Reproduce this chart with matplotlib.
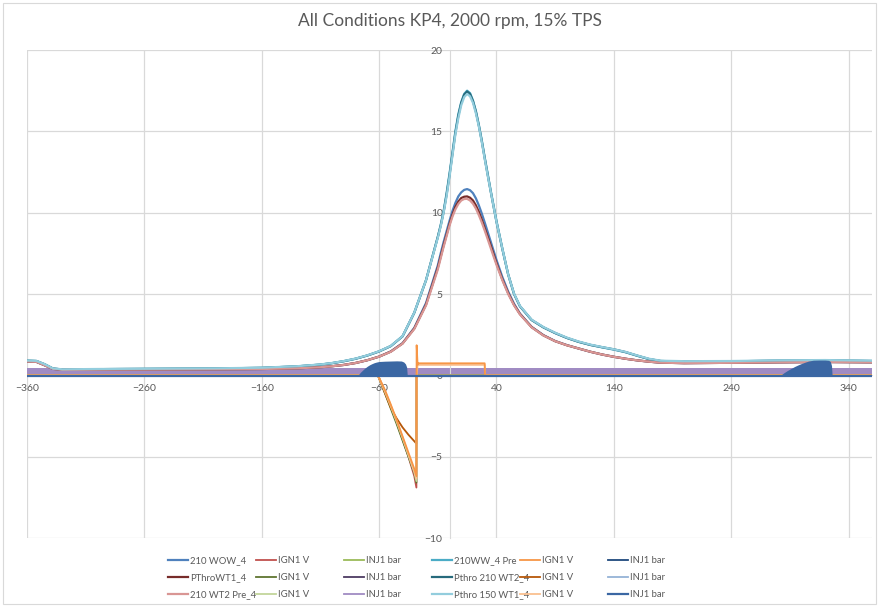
import matplotlib.pyplot as plt
from matplotlib.patches import Rectangle

plt.rcParams['font.family'] = ['Lato', 'DejaVu Sans']

# crank angle (deg) for the cylinder pressure traces
crank = [-360, -352, -345, -338, -330, -300, -250, -200, -160, -130, -110, -100,
         -90, -80, -70, -60, -50, -40, -30, -20,
         -10, -7.5, -5, -2.5, 0, 2.5, 5, 7.5, 10, 12.5, 15, 17.5, 20, 22.5, 25, 27.5,
         30, 32.5, 35, 37.5, 40,
         45, 50, 55, 60, 70, 80, 90, 100, 110, 120, 130, 140, 150,
         160, 170, 180, 200, 240, 280, 320, 360]

# pressure (bar)
p_210_wow = [0.85, 0.83, 0.62, 0.40, 0.34, 0.35, 0.36, 0.37, 0.39, 0.43, 0.50, 0.56,
             0.64, 0.76, 0.93, 1.15, 1.47, 1.98, 2.92, 4.45,
             6.75, 7.5, 8.2, 8.85, 9.5, 10.1, 10.6, 11.0, 11.25, 11.4, 11.45, 11.38, 11.2, 10.88, 10.45, 9.95,
             9.4, 8.83, 8.25, 7.67, 7.1,
             6.05, 5.15, 4.4, 3.8, 2.98, 2.47, 2.11, 1.86, 1.65, 1.45, 1.28, 1.14, 1.02,
             0.92, 0.84, 0.78, 0.75, 0.77, 0.80, 0.82, 0.80]
p_210ww_pre = [0.90, 0.88, 0.68, 0.42, 0.36, 0.38, 0.40, 0.42, 0.46, 0.55, 0.66, 0.75,
               0.87, 1.02, 1.22, 1.47, 1.80, 2.40, 3.85, 5.85,
               8.5, 9.25, 10.1, 11.2, 12.4, 13.7, 15.0, 16.05, 16.8, 17.3, 17.5, 17.35, 16.9, 16.25, 15.4, 14.45,
               13.4, 12.4, 11.4, 10.45, 9.5,
               7.8, 6.2, 5.0, 4.25, 3.4, 2.95, 2.6, 2.3, 2.06, 1.87, 1.72, 1.58, 1.42,
               1.20, 1.00, 0.88, 0.85, 0.86, 0.90, 0.92, 0.88]
p_pthro_wt1 = [0.85, 0.83, 0.62, 0.40, 0.34, 0.35, 0.36, 0.37, 0.39, 0.43, 0.50, 0.56,
               0.64, 0.76, 0.93, 1.15, 1.46, 1.96, 2.88, 4.35,
               6.6, 7.3, 8.0, 8.65, 9.3, 9.87, 10.35, 10.68, 10.9, 10.98, 11.0, 10.92, 10.75, 10.45, 10.05, 9.57,
               9.05, 8.53, 8.0, 7.45, 6.9,
               5.9, 5.05, 4.33, 3.77, 2.96, 2.46, 2.10, 1.85, 1.65, 1.45, 1.28, 1.14, 1.02,
               0.92, 0.84, 0.78, 0.75, 0.77, 0.80, 0.82, 0.80]
p_pthro_210_wt2 = [0.90, 0.88, 0.68, 0.42, 0.36, 0.38, 0.40, 0.42, 0.46, 0.55, 0.66, 0.75,
                   0.87, 1.02, 1.22, 1.47, 1.80, 2.40, 3.85, 5.85,
                   8.5, 9.2, 10.05, 11.1, 12.3, 13.6, 14.9, 15.95, 16.75, 17.25, 17.45, 17.3, 16.85, 16.2, 15.35, 14.4,
                   13.35, 12.35, 11.35, 10.4, 9.45,
                   7.78, 6.2, 5.0, 4.25, 3.4, 2.95, 2.6, 2.3, 2.06, 1.87, 1.73, 1.60, 1.43,
                   1.21, 1.00, 0.88, 0.85, 0.86, 0.90, 0.92, 0.88]
p_210_wt2_pre = [0.85, 0.83, 0.62, 0.40, 0.34, 0.35, 0.36, 0.37, 0.39, 0.43, 0.50, 0.56,
                 0.64, 0.76, 0.93, 1.15, 1.45, 1.95, 2.85, 4.30,
                 6.5, 7.2, 7.9, 8.55, 9.2, 9.75, 10.2, 10.53, 10.75, 10.84, 10.85, 10.75, 10.55, 10.25, 9.85, 9.4,
                 8.9, 8.38, 7.85, 7.32, 6.8,
                 5.85, 5.0, 4.3, 3.75, 2.95, 2.45, 2.10, 1.85, 1.65, 1.45, 1.28, 1.14, 1.02,
                 0.92, 0.84, 0.78, 0.75, 0.77, 0.80, 0.82, 0.80]
p_pthro_150_wt1 = [0.91, 0.89, 0.69, 0.43, 0.37, 0.39, 0.41, 0.43, 0.47, 0.56, 0.67, 0.76,
                   0.88, 1.03, 1.23, 1.48, 1.81, 2.41, 3.86, 5.85,
                   8.45, 9.15, 10.0, 11.0, 12.2, 13.5, 14.8, 15.8, 16.6, 17.1, 17.3, 17.15, 16.75, 16.1, 15.3, 14.35,
                   13.3, 12.3, 11.35, 10.4, 9.45,
                   7.8, 6.2, 5.02, 4.27, 3.42, 2.97, 2.62, 2.32, 2.08, 1.89, 1.74, 1.60, 1.44,
                   1.22, 1.02, 0.90, 0.87, 0.88, 0.92, 0.94, 0.90]

# ignition coil voltage traces
ign_angle = [-360, -61, -55, -50, -45, -40, -35, -30, -28.2, -28.0, -27.2, -26.5, 30.0, 30.2, 360]
ign_210_wow = [0, 0, -1.0, -1.95, -2.9, -3.95, -5.0, -6.2, -6.9, 0, 0, 0, 0, 0, 0]
ign_210ww_pre = [0, 0, -0.9, -1.8, -2.75, -3.75, -4.75, -5.75, -6.2, 1.85, 0.66, 0.74, 0.74, 0, 0]
ign_pthro_wt1 = [0, 0, -1.1, -2.05, -3.0, -4.0, -5.0, -6.0, -6.6, 0, 0, 0, 0, 0, 0]
ign_pthro_210_wt2 = [0, 0, -1.1, -2.0, -2.65, -3.2, -3.65, -4.05, -4.2, 0, 0, 0, 0, 0, 0]
ign_210_wt2_pre = [0, 0, -1.0, -1.9, -2.85, -3.85, -4.9, -5.95, -6.5, 0, 0, 0, 0, 0, 0]
ign_pthro_150_wt1 = [0, 0, -0.95, -1.85, -2.8, -3.8, -4.85, -5.9, -6.35, 0, 0.62, 0.64, 0.64, 0, 0]

# injector signal traces
inj_angle = [-360, 360]
inj_flat = [0.2, 0.2]
inj_band_low = [-0.02, -0.02]
inj_band_high = [0.46, 0.46]
inj_base = [-0.04, -0.04]
pulse1_angle = [-78, -76, -74, -72, -70, -68, -66, -64, -62, -60, -55, -50, -45, -41, -39, -37.5, -36.5, -36]
pulse1_bar = [0, 0.18, 0.32, 0.45, 0.56, 0.65, 0.72, 0.78, 0.82, 0.85, 0.87, 0.88, 0.89, 0.88, 0.82, 0.7, 0.5, 0]
pulse2_angle = [282, 285, 288, 291, 294, 297, 300, 303, 306, 310, 315, 320, 323, 324.5, 325.5, 326]
pulse2_bar = [0, 0.16, 0.3, 0.42, 0.54, 0.64, 0.73, 0.81, 0.88, 0.93, 0.94, 0.94, 0.92, 0.85, 0.6, 0]

fig = plt.figure(figsize=(8.79, 6.07), dpi=100)
fig.patches.append(Rectangle((3 / 879, 3 / 607), 873 / 879, 601 / 607, transform=fig.transFigure,
                             fill=False, edgecolor='#D9D9D9', linewidth=0.8))
ax = fig.add_axes([27 / 879, 1 - 538 / 607, 845 / 879, 488 / 607])

s = {}
s[1], = ax.plot(crank, p_210_wow, color='#4F81BD', lw=1.6, zorder=3, label='210 WOW_4')
s[2], = ax.plot(ign_angle, ign_210_wow, color='#C0504D', lw=1.3, zorder=3, label='IGN1 V')
s[3], = ax.plot(inj_angle, inj_flat, color='#9BBB59', lw=1.3, zorder=2, label='INJ1 bar')
s[4], = ax.plot(crank, p_210ww_pre, color='#4BACC6', lw=1.6, zorder=3, label='210WW_4 Pre')
s[6], = ax.plot(inj_angle, inj_flat, color='#1F497D', lw=1.3, zorder=2, label='INJ1 bar')
s[7], = ax.plot(crank, p_pthro_wt1, color='#772C2A', lw=1.6, zorder=3, label='PThroWT1_4')
s[8], = ax.plot(ign_angle, ign_pthro_wt1, color='#5F7530', lw=1.3, zorder=3, label='IGN1 V')
s[9], = ax.plot(inj_angle, inj_flat, color='#4D3B62', lw=1.3, zorder=2, label='INJ1 bar')
s[10], = ax.plot(crank, p_pthro_210_wt2, color='#276A7C', lw=1.6, zorder=3, label='Pthro 210 WT2_4')
s[11], = ax.plot(ign_angle, ign_pthro_210_wt2, color='#B65708', lw=1.3, zorder=3, label='IGN1 V')
s[12], = ax.plot(inj_angle, inj_flat, color='#95B3D7', lw=1.3, zorder=2, label='INJ1 bar')
s[13], = ax.plot(crank, p_210_wt2_pre, color='#D99694', lw=1.6, zorder=3, label='210 WT2 Pre_4')
s[14], = ax.plot(ign_angle, ign_210_wt2_pre, color='#C3D69B', lw=1.3, zorder=3, label='IGN1 V')
s[15], = ax.plot(inj_angle, inj_flat, color='#A08BC3', lw=1.3, zorder=2, label='INJ1 bar')
ax.fill_between(inj_angle, inj_band_low, inj_band_high, color='#A08BC3', lw=0, zorder=2.5)
s[16], = ax.plot(crank, p_pthro_150_wt1, color='#93CDDD', lw=1.6, zorder=3, label='Pthro 150 WT1_4')
s[17], = ax.plot(ign_angle, ign_pthro_150_wt1, color='#FAC090', lw=1.3, zorder=3.2, label='IGN1 V')
s[5], = ax.plot(ign_angle, ign_210ww_pre, color='#F79646', lw=1.3, zorder=3.3, label='IGN1 V')
s[18], = ax.plot(inj_angle, inj_base, color='#3B67A3', lw=1.6, zorder=5, label='INJ1 bar')
ax.fill_between(pulse1_angle, 0, pulse1_bar, color='#3B67A3', lw=0, zorder=4)
ax.fill_between(pulse2_angle, 0, pulse2_bar, color='#3B67A3', lw=0, zorder=4)

ax.set_xlim(-360, 360)
ax.set_ylim(-10, 20)
ax.set_xticks(range(-360, 361, 100))
ax.set_yticks(range(-10, 21, 5))
ax.set_axisbelow(True)
ax.grid(color='#D9D9D9', linewidth=0.9)
for side in ['top', 'right']:
    ax.spines[side].set_visible(False)
ax.spines['left'].set_position(('data', 0))
ax.spines['bottom'].set_position(('data', 0))
ax.spines['left'].set_color('#D9D9D9')
ax.spines['bottom'].set_color('#D9D9D9')
ax.tick_params(length=0, labelsize=7.5, labelcolor='#595959')
ax.tick_params(axis='x', pad=6)
ax.tick_params(axis='y', pad=5)

fig.text(0.5115, 1 - 21 / 607, 'All Conditions KP4, 2000 rpm, 15% TPS',
         ha='center', va='center', fontsize=12.5, color='#595959')

# legend in Excel order, one column at a time
for j in range(6):
    hs = [s[j + 1], s[j + 7], s[j + 13]]
    fig.legend(handles=hs, labels=[h.get_label() for h in hs], loc='upper left',
               bbox_to_anchor=((168 + 88 * j) / 879, 1 - 556 / 607), frameon=False,
               fontsize=6.8, handlelength=2.15, handletextpad=0.2, labelspacing=0.85,
               borderpad=0, borderaxespad=0, labelcolor='#595959')

fig.savefig('out.png', dpi=100)
